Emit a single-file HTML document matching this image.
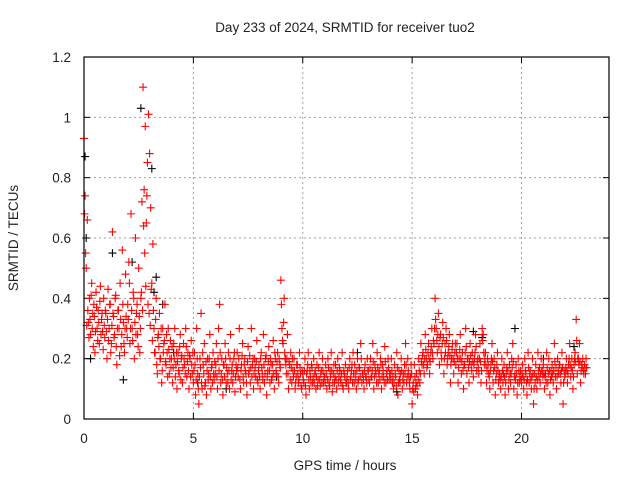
<!DOCTYPE html>
<html><head><meta charset="utf-8"><style>
body{margin:0;background:#fff}
svg text{font-family:"Liberation Sans",sans-serif;font-size:13.5px;fill:#222}
</style></head><body>
<svg width="640" height="480">
<rect width="640" height="480" fill="#fff"/>
<g id="grid"></g>
<g id="ticks"></g>
<g id="blk"></g>
<g id="red"></g>
<rect x="84" y="57" width="525" height="362" fill="none" stroke="#000" stroke-width="1.2"/>
<text x="345" y="32" text-anchor="middle">Day 233 of 2024, SRMTID for receiver tuo2</text>
<text x="345" y="470" text-anchor="middle">GPS time / hours</text>
<text transform="translate(18,238) rotate(-90)" text-anchor="middle">SRMTID / TECUs</text>
</svg>
<script>
const xTicks=[0,5,10,15,20];
const yTicks=[0,0.2,0.4,0.6,0.8,1,1.2];
const yTickLabels=["0","0.2","0.4","0.6","0.8","1","1.2"];
const redStart=0, redStep=0.05, redStartB=0.025;
const redValues=[
.93,.74,.5,.66,.32,.4,.28,.45,.35,.38,.22,.42,.3,.36,.25,.44,.33,.29,.4,.27,
.35,.2,.43,.3,.38,.25,.62,.34,.28,.41,.18,.36,.3,.45,.24,.56,.32,.22,.48,.3,
.38,.52,.25,.68,.3,.42,.2,.6,.35,.28,.5,.22,.4,.72,1.1,.76,.97,.65,.85,1.01,
.88,.7,.45,.58,.3,.22,.4,.15,.28,.35,.2,.12,.3,.25,.38,.18,.22,.3,.15,.26,
.2,.12,.25,.3,.18,.1,.22,.15,.28,.2,.12,.25,.18,.3,.14,.22,.1,.2,.26,.15,
.12,.22,.08,.3,.15,.05,.2,.35,.1,.18,.25,.12,.08,.2,.15,.28,.1,.18,.22,.13,
.15,.25,.1,.3,.38,.12,.2,.08,.18,.25,.12,.15,.22,.1,.28,.16,.12,.2,.09,.18,
.22,.14,.3,.1,.18,.25,.12,.2,.15,.08,.24,.16,.12,.3,.18,.1,.2,.14,.26,.12,
.18,.1,.22,.15,.28,.12,.2,.08,.16,.24,.12,.18,.14,.26,.1,.2,.15,.22,.12,.18,
.46,.3,.25,.4,.2,.15,.28,.1,.18,.22,.12,.16,.2,.1,.14,.18,.12,.22,.15,.1,
.15,.12,.2,.08,.16,.22,.1,.14,.18,.12,.2,.15,.1,.18,.13,.22,.11,.16,.2,.12,
.14,.18,.1,.2,.12,.16,.22,.09,.15,.12,.18,.1,.2,.14,.16,.12,.22,.1,.15,.18,
.12,.16,.1,.2,.14,.18,.22,.12,.15,.1,.2,.13,.17,.25,.12,.15,.1,.18,.14,.2,
.16,.12,.2,.14,.25,.1,.18,.15,.22,.12,.16,.2,.1,.18,.14,.24,.12,.16,.2,.13,
.15,.2,.12,.1,.18,.14,.22,.08,.16,.12,.2,.1,.15,.18,.25,.12,.2,.14,.1,.18,
.05,.12,.18,.1,.15,.08,.2,.12,.25,.18,.22,.15,.28,.2,.18,.25,.15,.22,.3,.2,
.25,.4,.3,.22,.35,.18,.28,.2,.32,.15,.25,.3,.18,.22,.28,.12,.2,.25,.15,.22,
.18,.25,.12,.2,.28,.15,.22,.1,.18,.3,.15,.2,.12,.25,.18,.22,.14,.2,.28,.16,
.2,.15,.25,.12,.3,.28,.18,.22,.12,.2,.15,.1,.18,.25,.12,.2,.08,.15,.22,.12,
.15,.1,.2,.12,.18,.08,.15,.22,.1,.18,.12,.2,.25,.1,.15,.18,.08,.2,.12,.16,
.12,.18,.1,.2,.15,.08,.22,.12,.16,.1,.2,.05,.15,.18,.1,.22,.14,.12,.2,.16,
.18,.1,.15,.22,.12,.2,.08,.16,.18,.12,.25,.14,.1,.2,.15,.18,.12,.22,.05,.16,
.15,.2,.12,.18,.25,.14,.2,.1,.18,.22,.33,.15,.2,.25,.12,.18,.2,.15,.17,.2];
const redValuesB=[
.68,.55,.31,.36,.27,.33,.41,.3,.24,.34,.29,.37,.26,.32,.39,.28,.35,.23,.31,.36,
.29,.33,.26,.38,.22,.31,.35,.27,.4,.24,.3,.36,.21,.33,.28,.38,.25,.3,.34,.27,
.33,.45,.3,.36,.26,.4,.32,.28,.38,.24,.34,.3,.42,.36,.64,.55,.44,.74,.38,.35,
.31,.43,.26,.36,.22,.33,.18,.27,.24,.2,.3,.16,.22,.26,.19,.28,.14,.23,.2,.17,
.24,.17,.2,.14,.22,.19,.16,.24,.13,.21,.17,.2,.15,.24,.19,.16,.21,.14,.18,.22,
.16,.18,.13,.2,.1,.14,.17,.12,.22,.15,.11,.19,.16,.13,.2,.14,.17,.12,.15,.19,
.18,.14,.2,.16,.22,.15,.13,.18,.14,.2,.17,.12,.16,.2,.13,.18,.15,.22,.14,.16,
.17,.2,.13,.16,.21,.14,.18,.16,.12,.19,.15,.21,.17,.14,.2,.15,.17,.19,.13,.16,
.14,.2,.17,.13,.18,.15,.21,.14,.19,.16,.2,.13,.18,.15,.22,.16,.19,.14,.2,.17,
.38,.26,.32,.22,.18,.2,.15,.19,.13,.17,.2,.14,.16,.12,.18,.15,.13,.17,.11,.16,
.13,.16,.11,.15,.18,.13,.16,.12,.17,.14,.12,.16,.14,.11,.17,.13,.15,.12,.16,.14,
.12,.15,.13,.17,.11,.14,.16,.12,.18,.14,.13,.16,.12,.17,.13,.15,.11,.16,.14,.12,
.14,.12,.17,.13,.16,.12,.15,.18,.13,.16,.12,.17,.14,.2,.15,.13,.16,.14,.12,.16,
.13,.17,.14,.16,.19,.14,.16,.12,.17,.15,.13,.18,.14,.16,.12,.19,.15,.13,.17,.15,
.13,.16,.14,.12,.15,.11,.17,.12,.13,.15,.16,.13,.12,.15,.18,.14,.16,.12,.14,.15,
.1,.09,.14,.12,.11,.13,.16,.15,.19,.21,.18,.2,.23,.17,.22,.2,.19,.24,.22,.26,
.3,.33,.26,.28,.24,.27,.22,.25,.27,.2,.22,.26,.2,.24,.21,.18,.23,.2,.19,.25,
.22,.2,.17,.23,.2,.19,.16,.18,.22,.24,.2,.17,.19,.21,.16,.19,.18,.22,.24,.19,
.17,.2,.19,.16,.26,.22,.2,.18,.16,.18,.14,.16,.2,.19,.16,.17,.13,.18,.16,.14,
.13,.14,.16,.15,.14,.12,.17,.16,.13,.15,.15,.17,.19,.14,.13,.15,.12,.16,.14,.13,
.15,.14,.13,.16,.12,.13,.17,.15,.13,.14,.15,.1,.12,.14,.13,.16,.17,.15,.16,.14,
.15,.14,.12,.17,.15,.16,.13,.14,.15,.16,.19,.17,.14,.16,.18,.15,.16,.17,.12,.14,
.17,.16,.15,.2,.18,.17,.16,.14,.2,.19,.26,.2,.18,.19,.16,.17,.16,.18,.15,.17];
const blackTimes=[0.05,0.1,0.3,1.3,1.8,2.2,2.6,3.1,3.2,3.3,3.6,4.1,5.2,6.5,8.8,9.2,12.5,14.3,17.8,18.2,19.7,21.0,22.4];
const blackValues=[0.87,0.6,0.2,0.55,0.13,0.52,1.03,0.83,0.42,0.47,0.38,0.22,0.12,0.1,0.14,0.2,0.22,0.09,0.29,0.27,0.3,0.2,0.24];
const X=t=>84+t*(525/24), Y=v=>419-v*(362/1.2);
const NS="http://www.w3.org/2000/svg";
function mk(tag,attrs,parent){const e=document.createElementNS(NS,tag);for(const k in attrs)e.setAttribute(k,attrs[k]);parent.appendChild(e);return e;}
const grid=document.getElementById('grid'),ticks=document.getElementById('ticks');
xTicks.forEach(t=>{
 if(t>0){const g=mk('line',{x1:X(t),x2:X(t),y1:57,y2:419,stroke:'#a0a0a0','stroke-dasharray':'2,3'},grid);
 
 }
 mk('line',{x1:X(t),x2:X(t),y1:419,y2:413,stroke:'#000'},ticks);
 mk('line',{x1:X(t),x2:X(t),y1:57,y2:63,stroke:'#000'},ticks);
 const tx=mk('text',{x:X(t),y:443,'text-anchor':'middle'},ticks);tx.textContent=t;
 
 
});
yTicks.forEach((v,i)=>{
 if(v>0&&v<1.2){const g=mk('line',{x1:84,x2:609,y1:Y(v),y2:Y(v),stroke:'#a0a0a0','stroke-dasharray':'2,3'},grid);
 
 }
 mk('line',{x1:84,x2:90,y1:Y(v),y2:Y(v),stroke:'#000'},ticks);
 mk('line',{x1:603,x2:609,y1:Y(v),y2:Y(v),stroke:'#000'},ticks);
 const tx=mk('text',{x:71,y:Y(v)+5,'text-anchor':'end'},ticks);tx.textContent=yTickLabels[i];
 
 
});
function plus(x,y,c,p){const e=mk('path',{d:`M${x-4},${y}h8M${x},${y-4}v8`,stroke:c,'stroke-width':1.1},p);return e;}
const blk=document.getElementById('blk');
blackTimes.forEach((t,i)=>{const e=plus(X(t),Y(blackValues[i]),'#000',blk);
 
 });
const red=document.getElementById('red');
redValues.forEach((v,i)=>{const e=plus(X(redStart+i*redStep),Y(v),'#f00',red);
 
 });
redValuesB.forEach((v,i)=>{const e=plus(X(redStartB+i*redStep),Y(v),'#f00',red);
 
 });
</script>
</body></html>
